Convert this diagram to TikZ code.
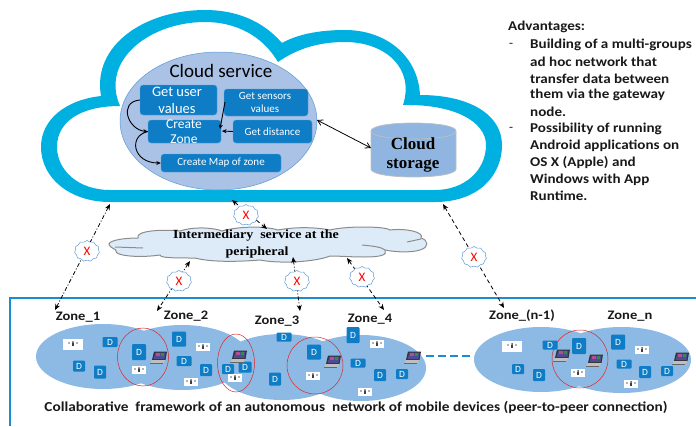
\documentclass[tikz,border=0pt]{standalone}
\usepackage{fontspec}
\setmainfont{Carlito}
\newfontfamily\tnr[FakeStretch=1.12]{Liberation Serif}
\newfontfamily\tnrplain{Liberation Serif}
\newfontfamily\wide[FakeStretch=1.117]{Carlito}
\usetikzlibrary{arrows.meta,shapes.geometric,shapes.symbols}
\newcommand\fsz[1]{\fontsize{#1}{#1}\selectfont}
\definecolor{cloudblue}{HTML}{00B0E0}
\definecolor{oval}{HTML}{A9C2E6}
\definecolor{ovalline}{HTML}{5B9BD5}
\definecolor{boxblue}{HTML}{0F7DC6}
\definecolor{zonefill}{HTML}{8DB9E5}
\definecolor{framec}{HTML}{1A8DD2}
\definecolor{midfill}{HTML}{DCEBF7}
\definecolor{storefill}{HTML}{8FB5E0}
\tikzset{
  svcbox/.style={fill=boxblue,draw=boxblue!70!white,rounded corners=3pt,inner sep=0pt,text=white,align=center},
  dbox/.style={fill=boxblue,rounded corners=1pt,inner sep=0pt,text=white,font=\fsz{9.5}},
  zoneoval/.style={ellipse,fill=zonefill,inner sep=0pt},
  redring/.style={ellipse,draw=red!85!black!85,line width=.5pt,inner sep=0pt},
  zonelabel/.style={font=\wide\bfseries\fsz{13},inner sep=0pt,text=black!90},
  advtext/.style={font=\wide\bfseries\fsz{13.5},anchor=west,inner sep=0pt,text=black!90},
  xcloud/.style={cloud,cloud puffs=11,cloud puff arc=110,aspect=1.15,draw=ovalline,fill=white,line width=.5pt,inner sep=0pt,minimum width=25pt,minimum height=21pt,text=red,font=\fsz{13}},
  tag/.style={fill=white,inner sep=0pt},
  inarrow/.style={-{Stealth[length=4.5pt,width=4pt]},line width=.9pt,black},
  dashdot/.style={{Stealth[length=6pt,width=5pt]}-{Stealth[length=6pt,width=5pt]},line width=.8pt,dash pattern=on 4pt off 2pt on 1pt off 2pt},
  dashl/.style={{Stealth[length=6pt,width=5pt]}-{Stealth[length=6pt,width=5pt]},line width=.8pt,dash pattern=on 4pt off 3pt},
}
\begin{document}
\begin{tikzpicture}[x=1pt,y=-1pt]
\useasboundingbox (0,0) rectangle (696,426);
% big cloud outline
\fill[cloudblue,even odd rule]
  (110,202) -- (435,202) .. controls (478,202) and (502,176) .. (502,145)
  .. controls (502,115) and (470,95) .. (420,95)
  .. controls (418,55) and (385,30) .. (345,30)
  .. controls (320,30) and (298,34) .. (282,43)
  .. controls (262,20) and (235,10) .. (205,10)
  .. controls (145,10) and (92,45) .. (101,96)
  .. controls (65,100) and (41,120) .. (41,147)
  .. controls (41,178) and (70,202) .. (110,202) -- cycle
  (110,190) -- (435,190) .. controls (465,190) and (486,170) .. (486,145)
  .. controls (486,122) and (455,104) .. (403,105)
  .. controls (415,68) and (385,42) .. (345,42)
  .. controls (320,42) and (298,48) .. (278,62)
  .. controls (262,35) and (235,22) .. (205,22)
  .. controls (150,22) and (100,60) .. (120,106)
  .. controls (80,106) and (57,122) .. (57,147)
  .. controls (57,170) and (78,190) .. (110,190) -- cycle;
% cloud service oval
\node[ellipse,fill=oval,draw=ovalline,line width=.5pt,minimum width=197pt,minimum height=138pt,inner sep=0pt] (svc) at (218.5,121) {};
\node[font=\fsz{19},text=black,inner sep=0pt] (svct) at (221,71) {Cloud service};
\node[svcbox,minimum width=77pt,minimum height=30pt,font=\fsz{14.5}] (guv) at (178.5,100) {};
\node[text=white,font=\fsz{14.5},inner sep=0pt] (guva) at (177,91.5) {Get user};
\node[text=white,font=\fsz{14.5},inner sep=0pt] (guvb) at (177,108.5) {values};
\node[svcbox,minimum width=84pt,minimum height=27pt] (gsv) at (266,102.5) {};
\node[text=white,font=\fsz{11},inner sep=0pt] (gsva) at (265,96) {Get sensors};
\node[text=white,font=\fsz{11},inner sep=0pt] (gsvb) at (265,109) {values};
\node[svcbox,minimum width=73pt,minimum height=23pt] (cz) at (184.5,131.5) {};
\node[text=white,font=\fsz{13.5},inner sep=0pt] (cza) at (184,124) {Create};
\node[text=white,font=\fsz{13.5},inner sep=0pt] (czb) at (184,139) {Zone};
\node[svcbox,minimum width=79pt,minimum height=23pt,font=\fsz{11}] (gd) at (272.5,131.5) {Get distance};
\node[svcbox,minimum width=120pt,minimum height=18pt,font=\fsz{11}] (cm) at (221,163) {Create Map of zone};
\draw[inarrow] (guv.west) .. controls (118,102) and (128,130) .. (cz.west);
\draw[inarrow] (cz.west) .. controls (128,136) and (133,163) .. (cm.west);
\draw[inarrow] (225,102) -- (220,129);
\draw[inarrow] (gd.west) -- (222,131);
% storage
\draw[fill=storefill,draw=black!25,line width=.7pt]
  (371,131) -- (371,169) .. controls (371,174) and (390,177) .. (413.5,177)
  .. controls (437,177) and (456,174) .. (456,169) -- (456,131)
  .. controls (456,126) and (437,123) .. (413.5,123)
  .. controls (390,123) and (371,126) .. (371,131) -- cycle;
\draw[draw=black!25,line width=.7pt] (371,131) .. controls (371,136) and (390,139) .. (413.5,139)
  .. controls (437,139) and (456,136) .. (456,131);
\node[font=\tnrplain\bfseries\fsz{17},align=center,inner sep=0pt] (storet) at (413,155) {Cloud\\[2pt]storage};
\coordinate (svcE) at (317,120);
\coordinate (storeW) at (371,148);
\draw[{Straight Barb[length=5pt,width=6pt]}-{Straight Barb[length=5pt,width=6pt]},line width=.8pt] (svcE) -- (storeW);
% intermediary cloud
\draw[fill=midfill,draw=black!45,line width=1pt]
  (109,244) .. controls (110,240) and (125,238) .. (138,238)
  .. controls (135,231) and (160,229) .. (180,231)
  .. controls (195,226) and (215,228) .. (222,231)
  .. controls (240,226) and (265,226) .. (278,230)
  .. controls (300,226) and (320,228) .. (330,230)
  .. controls (345,226) and (385,226) .. (390,230)
  .. controls (405,228) and (425,232) .. (421,238)
  .. controls (428,240) and (430,247) .. (420,250)
  .. controls (410,253) and (395,252) .. (385,250)
  .. controls (388,255) and (380,257) .. (365,257)
  .. controls (350,257) and (340,256) .. (330,256)
  .. controls (315,262) and (280,264) .. (260,260)
  .. controls (235,262) and (210,262) .. (195,258)
  .. controls (175,258) and (160,258) .. (160,255)
  .. controls (140,258) and (115,256) .. (116,251)
  .. controls (117,249) and (109,248) .. (109,244) -- cycle;
\draw[draw=black!45,line width=1pt] (115,247) -- (143,248);
\draw[draw=black!45,line width=1pt] (362,245) .. controls (372,246) and (382,247) .. (385,250);
\draw[draw=black!45,line width=1pt] (407,242) -- (421,239);
\node[font=\tnr\bfseries\fsz{12.5},inner sep=0pt] (midb) at (256,236) {Intermediary\ \ service at the};
\node[font=\tnr\bfseries\fsz{12.5},inner sep=0pt] (midc) at (257,252) {peripheral};
% frame
\draw[framec,line width=1.5pt] (696,298) -- (10,298) -- (10,426);
% connectors
\coordinate (a1) at (110,204); \coordinate (b1) at (55,310);
\coordinate (a2) at (232,200); \coordinate (b2) at (267,229);
\coordinate (a3) at (190,261); \coordinate (b3) at (157,311);
\coordinate (a4) at (293,257); \coordinate (b4) at (300,311);
\coordinate (a5) at (347,258); \coordinate (b5) at (384,310);
\coordinate (a6) at (443,204); \coordinate (b6) at (504,308);
\draw[dashdot] (a1) -- (b1);
\draw[dashl] (a2) -- (b2);
\draw[dashdot] (a3) -- (b3);
\draw[dashdot] (a4) -- (b4);
\draw[dashl] (a5) -- (b5);
\draw[dashl] (a6) -- (b6);
\node[xcloud] (x1) at (87,251) {X};
\node[xcloud] (x2) at (246,215) {X};
\node[xcloud] (x3) at (179,281) {X};
\node[xcloud] (x4) at (297,281) {X};
\node[xcloud] (x5) at (362,277) {X};
\node[xcloud] (x6) at (474,257) {X};
% zones
\node[zoneoval,minimum width=134pt,minimum height=65pt] (z1) at (103,356.5) {};
\node[zoneoval,minimum width=134pt,minimum height=65pt] (z2) at (182,357.5) {};
\node[zoneoval,minimum width=130pt,minimum height=66pt] (z3) at (282,367) {};
\node[zoneoval,minimum width=130pt,minimum height=66pt] (z4) at (361,368) {};
\node[zoneoval,minimum width=134pt,minimum height=65pt] (z5) at (541,359.5) {};
\node[zoneoval,minimum width=139pt,minimum height=66pt] (z6) at (621.5,360) {};
\coordinate (lnkA) at (426,356);
\coordinate (lnkB) at (474,356);
\draw[framec,line width=2.5pt,dash pattern=on 8pt off 4pt] (lnkA) -- (lnkB);
\node[redring,minimum width=51pt,minimum height=58pt] (r1) at (143,357) {};
\node[redring,minimum width=37pt,minimum height=58pt] (r2) at (236,363) {};
\node[redring,minimum width=56pt,minimum height=57pt] (r3) at (315,365.5) {};
\node[redring,minimum width=56pt,minimum height=58pt] (r4) at (580,359) {};
% labels
\node[zonelabel] (l1) at (78,317) {Zone\_1};
\node[zonelabel] (l2) at (186,316) {Zone\_2};
\node[zonelabel] (l3) at (277,321) {Zone\_3};
\node[zonelabel] (l4) at (370,319) {Zone\_4};
\node[zonelabel] (l5) at (522,316) {Zone\_(n-1)};
\node[zonelabel] (l6) at (630,316) {Zone\_n};
\node[font=\wide\bfseries\fsz{13.7},inner sep=0pt,text=black!90] (cap) at (356,407) {Collaborative\ \ framework of an autonomous\ \ network of mobile devices (peer-to-peer connection)};
% D boxes
\foreach \px/\py/\w/\h [count=\i] in {
 110/342/15/10, 139/352/14/16, 79/366/12/11, 100/372/12/13,
 179/339/14/15, 184/361/15/10, 206/370/12/12, 228/369/12/10,
 245/367/13/11, 284/337/15/9, 275/379/12/13, 314/352/14/15,
 353/335/13/16, 358/363/15/9, 380/375/12/12, 402/374/12/10,
 550/345/15/9, 579/346/14/16, 518/369/12/10, 539/375/12/12,
 618/342/14/15, 624/364/15/9, 645/372/12/12, 667/371/12/10}
  \node[dbox,minimum width=\w pt,minimum height=\h pt] (d\i) at (\px,\py) {D};
% sensor tags (icon only)
\foreach \px/\py/\w/\h [count=\i] in {
 73/344/20/11, 139/370/14/8, 203/347/14/8, 191/382/14/8,
 235/378/14/8, 313/376/14/8, 377/344/14/8, 365/392/14/8,
 512/346/20/11, 578/373/14/8, 642/350/14/8, 631/384/14/8}{
  \node[tag,minimum width=\w pt,minimum height=\h pt] (t\i) at (\px,\py) {};
  \fill[black!75] (\px-1.2,\py-1) rectangle (\px+1.2,\py+2.4);
  \fill[black!75] (\px,\py-2) circle (1pt);
  \fill[black!60] (\px-4,\py-1) circle (.9pt) (\px+4,\py-1) circle (.9pt);
}
% laptops
\foreach \px/\py [count=\i] in {159/358,239/357,333/362,413/358,562/356,595/361,681/359}{
  \fill[black!80] (\px-5,\py-6.5) -- (\px+8,\py-6.5) -- (\px+6.5,\py+2) -- (\px-7,\py+2) -- cycle;
  \fill[blue!40!black!70] (\px-3.5,\py-5.5) -- (\px+6.5,\py-5.5) -- (\px+5.5,\py+1) -- (\px-5.5,\py+1) -- cycle;
  \fill[red!60!blue!70] (\px-3,\py-5) rectangle (\px+1,\py-2);
  \fill[green!45!black!80] (\px+1.5,\py-5) rectangle (\px+5,\py-2);
  \fill[black!25] (\px-7,\py+2) -- (\px+6.5,\py+2) -- (\px+4,\py+5.5) -- (\px-9,\py+5.5) -- cycle;
  \draw[black!60,line width=.4pt] (\px-9,\py+5.5) -- (\px+4,\py+5.5);
}
% advantages
\node[advtext] (adv) at (508,27) {Advantages:};
\node[advtext,font=\fsz{13}] (d1m) at (509,45) {-};
\node[advtext,font=\fsz{13}] (d2m) at (509,129) {-};
\foreach \yy/\tx [count=\i] in {45/Building of a multi-groups, 61.8/ad hoc network that, 78.6/transfer data between, 95.4/them via the gateway, 112.2/node., 129/Possibility of running, 145.8/Android applications on, 162.6/OS X (Apple) and, 179.4/Windows with App, 196.2/Runtime.}
  \node[advtext] (al\i) at (530,\yy) {\tx};
\end{tikzpicture}
\end{document}
